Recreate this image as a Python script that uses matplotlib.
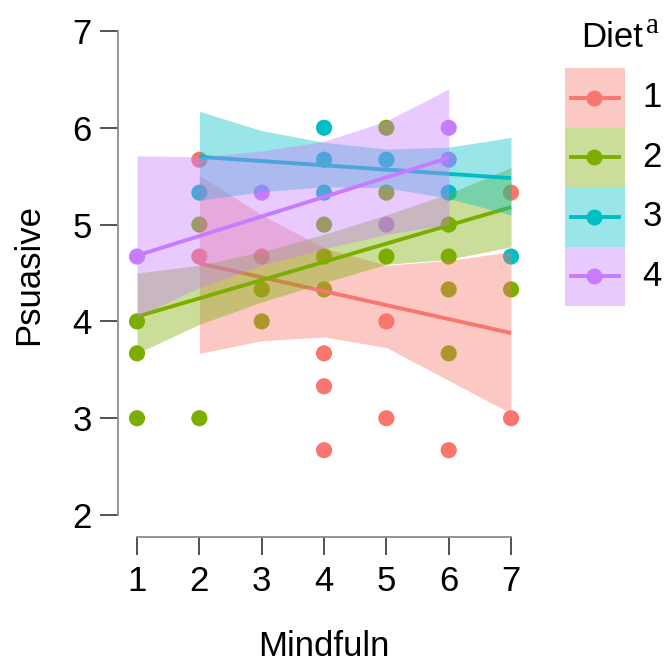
import numpy as np
import matplotlib.pyplot as plt
from matplotlib.patches import Rectangle

plt.rcParams['font.family'] = ['Liberation Sans', 'DejaVu Sans']

groups = ['1', '2', '3', '4']
colors = ['#F8766D', '#7CAE00', '#00BFC4', '#C77CFF']

# observed points per Diet group (Mindfuln, Psuasive)
g1_x = [2, 2, 3, 4, 4, 4, 5, 5, 6, 7, 7]
g1_y = [5.67, 4.67, 4.67, 3.67, 3.33, 2.67, 4.0, 3.0, 2.67, 5.33, 3.0]
g2_x = [1, 1, 1, 2, 2, 3, 3, 4, 4, 4, 5, 5, 5, 6, 6, 6, 6, 7]
g2_y = [4.0, 3.67, 3.0, 5.0, 3.0, 4.33, 4.0, 5.0, 4.67, 4.33, 6.0, 5.33, 4.67,
        5.0, 4.67, 4.33, 3.67, 4.33]
g3_x = [2, 4, 4, 4, 5, 6, 7]
g3_y = [5.33, 6.0, 5.67, 5.33, 5.67, 5.33, 4.67]
g4_x = [1, 3, 5, 6, 6]
g4_y = [4.67, 5.33, 5.0, 6.0, 5.67]

# fitted line and band at each Mindfuln value
f1_x = [2, 3, 4, 5, 6, 7]
f1_fit = [4.60, 4.46, 4.31, 4.17, 4.02, 3.88]
f1_lo = [3.67, 3.80, 3.84, 3.73, 3.39, 3.05]
f1_hi = [5.51, 5.10, 4.76, 4.58, 4.63, 4.72]

f2_x = [1, 2, 3, 4, 5, 6, 7]
f2_fit = [4.05, 4.24, 4.43, 4.61, 4.80, 4.99, 5.18]
f2_lo = [3.67, 3.97, 4.20, 4.40, 4.59, 4.64, 4.77]
f2_hi = [4.50, 4.58, 4.72, 4.90, 5.10, 5.32, 5.59]

f3_x = [2, 3, 4, 5, 6, 7]
f3_fit = [5.70, 5.66, 5.61, 5.57, 5.52, 5.48]
f3_lo = [5.25, 5.34, 5.39, 5.38, 5.27, 5.10]
f3_hi = [6.17, 5.97, 5.85, 5.78, 5.80, 5.90]

f4_x = [1, 2, 3, 4, 5, 6]
f4_fit = [4.68, 4.88, 5.08, 5.28, 5.49, 5.69]
f4_lo = [4.05, 4.35, 4.58, 4.75, 4.90, 5.00]
f4_hi = [5.71, 5.70, 5.76, 5.86, 6.07, 6.40]

points = [(g1_x, g1_y), (g2_x, g2_y), (g3_x, g3_y), (g4_x, g4_y)]
fits = [(f1_x, f1_fit, f1_lo, f1_hi), (f2_x, f2_fit, f2_lo, f2_hi),
        (f3_x, f3_fit, f3_lo, f3_hi), (f4_x, f4_fit, f4_lo, f4_hi)]

fig = plt.figure(figsize=(6.64, 6.62), dpi=100)
ax = fig.add_axes([0.1782, 0.1888, 0.6196, 0.7937])

# points first, then band + line per group
for (px, py), c in zip(points, colors):
    ax.scatter(px, py, s=135, color=c, edgecolors='none', zorder=2, clip_on=False)
for i, ((fx, fy, lo, hi), c) in enumerate(zip(fits, colors)):
    ax.fill_between(fx, lo, hi, color=c, alpha=0.4, linewidth=0, zorder=3 + 2 * i)
    ax.plot([fx[0], fx[-1]], [fy[0], fy[-1]], color=c, linewidth=2.8,
            solid_capstyle='butt', zorder=4 + 2 * i)

ax.set_xlim(0.7, 7.3)
ax.set_ylim(1.773, 7.2)
ax.spines['top'].set_visible(False)
ax.spines['right'].set_visible(False)
ax.spines['left'].set_bounds(2, 7)
ax.spines['bottom'].set_bounds(1, 7)
for s in ['left', 'bottom']:
    ax.spines[s].set_color('#8c8c8c')
    ax.spines[s].set_linewidth(1.3)
ax.set_xticks(range(1, 8))
ax.set_yticks(range(2, 8))
ax.tick_params(length=13, width=1.3, color='#444444', labelsize=25, pad=6)
ax.tick_params(axis='x', pad=7)
ax.set_xlabel('Mindfuln', fontsize=25, labelpad=23)
ax.set_ylabel('Psuasive', fontsize=25, labelpad=20)

# legend drawn by hand: tinted key boxes with line + dot
lax = fig.add_axes([565 / 664, 1 - 306 / 662, 60 / 664, 238 / 662])
lax.set_xlim(0, 1)
lax.set_ylim(0, 4)
lax.axis('off')
for i, (g, c) in enumerate(zip(groups, colors)):
    yc = 3.5 - i
    lax.add_patch(Rectangle((0, yc - 0.5), 1, 1, facecolor=c, alpha=0.4, linewidth=0))
    lax.plot([0.1, 0.9], [yc, yc], color=c, linewidth=2.8)
    lax.plot([0.48], [yc], 'o', color=c, markersize=10.5)
    lax.text(1.45, yc, g, fontsize=25, ha='center', va='center')
fig.text(581 / 664, 1 - 47 / 662, 'Diet', fontsize=25, ha='left', va='baseline')
fig.text(646 / 664, 1 - 33 / 662, 'a', fontsize=21, ha='left', va='baseline',
         family='Liberation Serif')

fig.savefig('out.png', dpi=100)
